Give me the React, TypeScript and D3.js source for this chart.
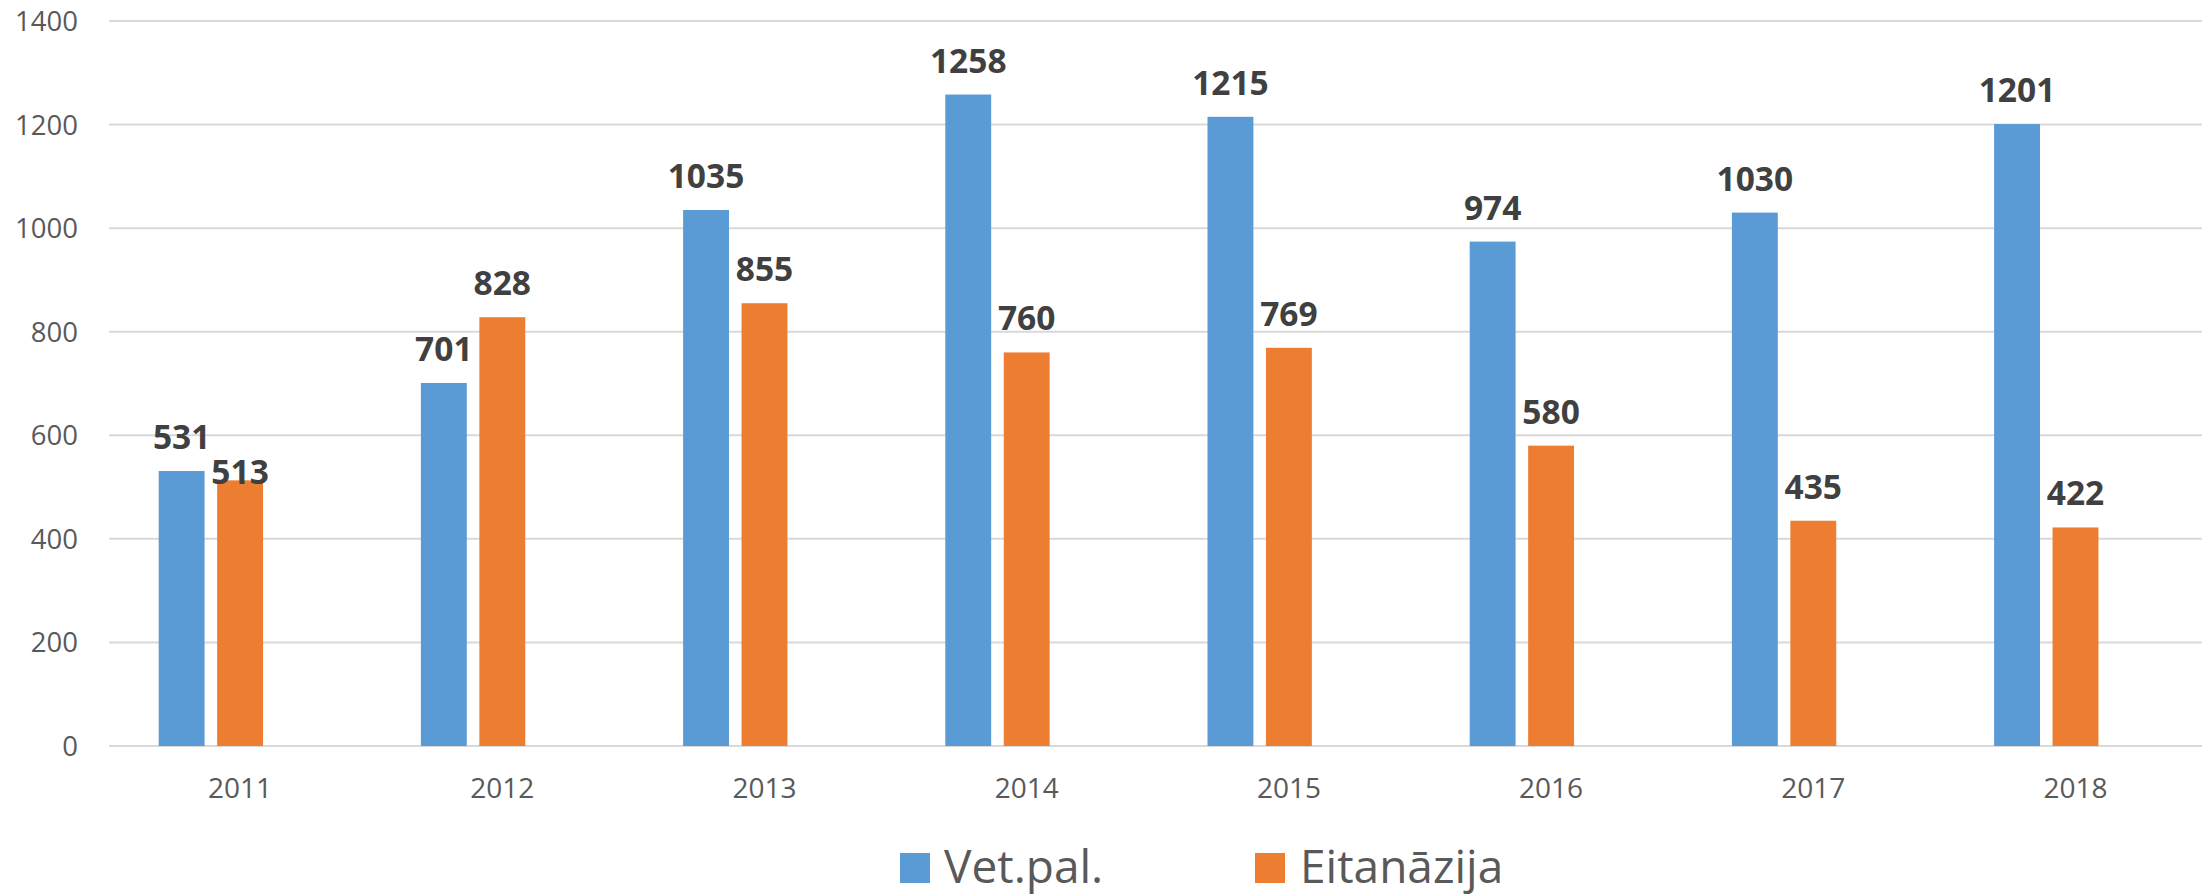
import React from "react";
import * as d3 from "d3";

const years = ["2011", "2012", "2013", "2014", "2015", "2016", "2017", "2018"];
const seriesNames = ["Vet.pal.", "Eitanāzija"];
const vetPal = [531, 701, 1035, 1258, 1215, 974, 1030, 1201];
const eitanazija = [513, 828, 855, 760, 769, 580, 435, 422];
const yTicks = [0, 200, 400, 600, 800, 1000, 1200, 1400];
const colors = ["#5B9BD5", "#ED7D31"];
// Excel moved this one label to avoid colliding with its neighbour
const labelNudges: Record<string, number> = { "2011-1": 26 };

const W = 2202;
const H = 895;
const FONT = "'Open Sans', 'Noto Sans', sans-serif";

export default function App() {
  const left = 109;
  const right = 2206.6;
  const top = 21;
  const bottom = 746;

  const x0 = d3.scaleBand<string>().domain(years).range([left, right]).padding(0);
  const step = x0.bandwidth();
  // three slots per category (third slot is empty in the original)
  const xSub = d3
    .scaleBand<number>()
    .domain([0, 1, 2])
    .range([49.7, step - 49.7])
    .paddingInner(0.215);
  const y = d3.scaleLinear().domain([0, 1400]).range([bottom, top]);

  const series = [vetPal, eitanazija];

  return (
    <svg
      width={W}
      height={H}
      style={{ position: "absolute", left: 0, top: 0, background: "#fff" }}
      fontFamily={FONT}
    >
      <rect x={0} y={0} width={W} height={H} fill="#fff" />
      {yTicks.map((t) => (
        <g key={t}>
          <line x1={left} x2={W} y1={y(t)} y2={y(t)} stroke="#d9d9d9" strokeWidth={2} />
          <text
            x={78}
            y={y(t) + 10}
            textAnchor="end"
            fontSize={27.5}
            fill="#595959"
          >
            {t}
          </text>
        </g>
      ))}
      {years.map((yr, i) => (
        <g key={yr}>
          {series.map((vals, s) => {
            const bx = (x0(yr) as number) + (xSub(s) as number);
            const bw = xSub.bandwidth();
            const v = vals[i];
            const nudge = labelNudges[`${yr}-${s}`] || 0;
            return (
              <g key={s}>
                <rect x={bx} y={y(v)} width={bw} height={bottom - y(v)} fill={colors[s]} />
                <text
                  x={bx + bw / 2}
                  y={y(v) - 22 + nudge}
                  textAnchor="middle"
                  fontSize={33.5}
                  fontWeight="bold"
                  fill="#404040"
                >
                  {v}
                </text>
              </g>
            );
          })}
          <text
            x={(x0(yr) as number) + step / 2}
            y={798}
            textAnchor="middle"
            fontSize={28}
            fill="#595959"
          >
            {yr}
          </text>
        </g>
      ))}
      <g>
        <rect x={900} y={853} width={30} height={30} fill={colors[0]} />
        <text x={944} y={883} fontSize={46} fill="#595959">
          {seriesNames[0]}
        </text>
        <rect x={1255} y={853} width={30} height={30} fill={colors[1]} />
        <text x={1300} y={883} fontSize={46} fill="#595959">
          {seriesNames[1]}
        </text>
      </g>
    </svg>
  );
}
